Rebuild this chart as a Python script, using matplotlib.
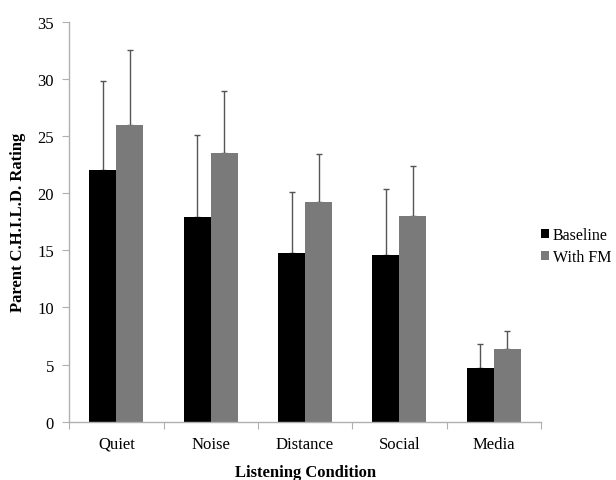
import matplotlib.pyplot as plt
import numpy as np

plt.rcParams['font.family'] = ['Liberation Serif', 'DejaVu Serif']

conditions = ['Quiet', 'Noise', 'Distance', 'Social', 'Media']
baseline = [22.0, 17.9, 14.8, 14.6, 4.7]
baseline_sd = [7.8, 7.2, 5.3, 5.8, 2.1]
with_fm = [26.0, 23.5, 19.2, 18.0, 6.4]
with_fm_sd = [6.5, 5.4, 4.2, 4.4, 1.5]

fig = plt.figure(figsize=(6.16, 4.81), dpi=100)
ax = fig.add_axes([0.1125, 0.1212, 0.7655, 0.8316])

x = np.arange(len(conditions))
w = 0.286
zeros = np.zeros(len(conditions))

ax.bar(x - w / 2, baseline, w, color='black', label='Baseline', zorder=2)
ax.bar(x + w / 2, with_fm, w, color='#7a7a7a', label='With FM', zorder=2)
ax.errorbar(x - w / 2, baseline, yerr=[zeros, baseline_sd], fmt='none',
            ecolor='#555555', elinewidth=1, capsize=2, capthick=1, zorder=1)
ax.errorbar(x + w / 2, with_fm, yerr=[zeros, with_fm_sd], fmt='none',
            ecolor='#555555', elinewidth=1, capsize=2, capthick=1, zorder=1)

ax.set_xlim(-0.5, len(conditions) - 0.5)
ax.set_ylim(0, 35)
ax.set_yticks(range(0, 36, 5))

# tick marks between groups, labels at group centres
ax.set_xticks(np.arange(-0.5, len(conditions), 1.0))
ax.set_xticklabels([])
ax.set_xticks(x, minor=True)
ax.set_xticklabels(conditions, minor=True)
ax.tick_params(axis='x', which='major', length=5, color='#b0b0b0')
ax.tick_params(axis='x', which='minor', length=0, labelsize=12, pad=10)
ax.tick_params(axis='y', length=5, color='#b0b0b0', labelsize=12, pad=6)

for side in ['top', 'right']:
    ax.spines[side].set_visible(False)
for side in ['left', 'bottom']:
    ax.spines[side].set_color('#b0b0b0')
    ax.spines[side].set_linewidth(1)

ax.set_ylabel('Parent C.H.I.L.D. Rating', fontsize=12, fontweight='bold', labelpad=8)
ax.set_xlabel('Listening Condition', fontsize=12, fontweight='bold', labelpad=9)

fig.legend(loc='center left', bbox_to_anchor=(0.878, 0.4865), frameon=False,
           fontsize=11.5, handlelength=0.5, handleheight=0.5, handletextpad=0.25,
           labelspacing=0.35, borderaxespad=0, borderpad=0)

fig.savefig('out.png', dpi=100)
